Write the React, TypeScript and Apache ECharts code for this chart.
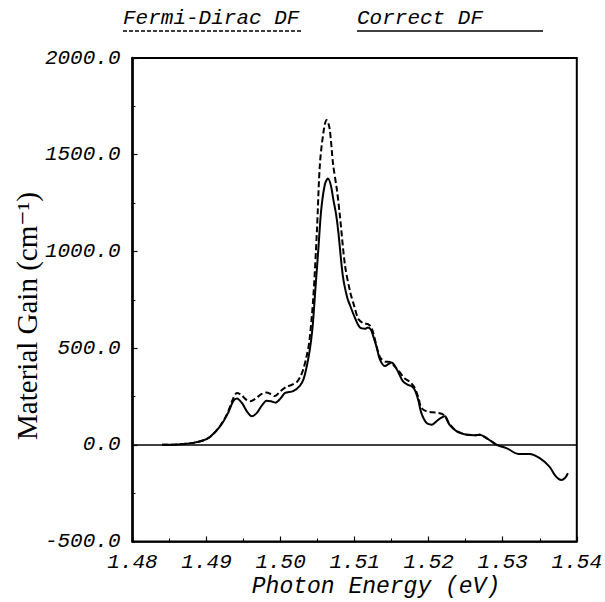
import React, { useEffect, useRef } from "react";
import * as echarts from "echarts";

// Photon energy (eV) and material gain (cm^-1) — "Correct DF" (solid)
const energyCorrect = [
  1.4840, 1.4860, 1.4882, 1.4895, 1.4905, 1.4918, 1.4928, 1.4936, 1.4941, 1.4948,
  1.4955, 1.4961, 1.4968, 1.4975, 1.4981, 1.4987, 1.4993, 1.5000, 1.5006, 1.5017,
  1.5026, 1.5031, 1.5035, 1.5039, 1.5043, 1.5047, 1.5051, 1.5055, 1.5060, 1.5064,
  1.5068, 1.5071, 1.5075, 1.5078, 1.5084, 1.5090, 1.5094, 1.5100, 1.5107, 1.5114,
  1.5118, 1.5122, 1.5125, 1.5130, 1.5134, 1.5141, 1.5146, 1.5150, 1.5154, 1.5159,
  1.5165, 1.5172, 1.5177, 1.5181, 1.5186, 1.5190, 1.5197, 1.5204, 1.5210, 1.5216,
  1.5222, 1.5228, 1.5238, 1.5251, 1.5262, 1.5269, 1.5278, 1.5292, 1.5305, 1.5321,
  1.5336, 1.5350, 1.5363, 1.5372, 1.5379, 1.5384, 1.5388,
];
const gainCorrect = [
  0, 2, 10, 22, 42, 94, 156, 225, 240, 215,
  170, 148, 165, 205, 228, 225, 218, 240, 268, 278,
  305, 340, 400, 480, 600, 806, 1013, 1221, 1350, 1377,
  1340, 1273, 1190, 1100, 875, 760, 719, 660, 607, 600,
  607, 595, 563, 500, 442, 407, 418, 425, 410, 375,
  329, 310, 303, 285, 230, 165, 113, 104, 120, 138,
  147, 104, 69, 52, 50, 52, 35, 0, -17, -47,
  -47, -69, -113, -165, -182, -172, -147,
];

// "Fermi-Dirac DF" (dashed)
const energyFermi = [
  1.4840, 1.4860, 1.4882, 1.4895, 1.4905, 1.4918, 1.4928, 1.4936, 1.4941, 1.4947,
  1.4953, 1.4959, 1.4966, 1.4974, 1.4981, 1.4987, 1.4992, 1.5000, 1.5008, 1.5015,
  1.5022, 1.5027, 1.5031, 1.5035, 1.5039, 1.5044, 1.5049, 1.5053, 1.5058, 1.5062,
  1.5066, 1.5071, 1.5076, 1.5080, 1.5087, 1.5094, 1.5100, 1.5105, 1.5112, 1.5118,
  1.5122, 1.5125, 1.5134, 1.5141, 1.5148, 1.5154, 1.5160, 1.5167, 1.5175, 1.5181,
  1.5186, 1.5190, 1.5197, 1.5205, 1.5213, 1.5218, 1.5222, 1.5228, 1.5238, 1.5251,
  1.5262, 1.5269, 1.5278, 1.5292,
];
const gainFermi = [
  0, 2, 10, 22, 42, 96, 162, 240, 268, 258,
  235, 225, 238, 262, 270, 262, 252, 278, 300, 310,
  325, 355, 395, 455, 540, 754, 1102, 1447, 1620, 1680,
  1640, 1447, 1320, 1187, 927, 790, 710, 650, 628, 624,
  610, 580, 455, 430, 428, 405, 380, 345, 324, 295,
  245, 191, 173, 168, 165, 160, 147, 108, 70, 53,
  50, 52, 35, 0,
];

const seriesNames = ["Fermi-Dirac DF", "Correct DF"];
const xTitle = "Photon Energy (eV)";
const yTitle = "Material Gain (cm\u207B\u00B9)";

const MONO = "'Liberation Mono', 'DejaVu Sans Mono', monospace";
const SERIF = "'Liberation Serif', 'DejaVu Serif', serif";

export default function App() {
  const ref = useRef<HTMLDivElement>(null);

  useEffect(() => {
    document.body.style.margin = "0";
    if (!ref.current) return;
    const chart = echarts.init(ref.current, null, { renderer: "svg" });
    const zip = (xs: number[], ys: number[]) => xs.map((x, i) => [x, ys[i]]);

    const labelStyle = {
      fontFamily: MONO,
      fontStyle: "italic" as const,
      fontSize: 21,
      color: "#000",
    };

    chart.setOption({
      animation: false,
      backgroundColor: "#fff",
      grid: {
        left: 132.5,
        right: 28,
        top: 58,
        bottom: 60.5,
        show: true,
        borderColor: "#000",
        borderWidth: 2,
        backgroundColor: "transparent",
      },
      xAxis: {
        type: "value",
        min: 1.48,
        max: 1.54,
        interval: 0.01,
        axisLine: { show: true, onZero: false, lineStyle: { color: "#000", width: 1.5 } },
        axisTick: { show: true, inside: true, length: 5, lineStyle: { color: "#000", width: 1.2 } },
        minorTick: { show: true, splitNumber: 2, length: 3, lineStyle: { color: "#000", width: 1 } },
        splitLine: { show: false },
        axisLabel: {
          ...labelStyle,
          margin: 10,
          formatter: (v: number) => v.toFixed(2),
        },
      },
      yAxis: {
        type: "value",
        min: -500,
        max: 2000,
        interval: 500,
        axisLine: { show: true, onZero: false, lineStyle: { color: "#000", width: 2.5 } },
        axisTick: { show: true, inside: true, length: 5, lineStyle: { color: "#000", width: 1.2 } },
        minorTick: { show: true, splitNumber: 2, length: 3, lineStyle: { color: "#000", width: 1 } },
        splitLine: { show: false },
        axisLabel: {
          ...labelStyle,
          margin: 12,
          formatter: (v: number) => v.toFixed(1),
        },
      },
      series: [
        {
          name: seriesNames[0],
          type: "line",
          data: zip(energyFermi, gainFermi),
          showSymbol: false,
          smooth: 0.3,
          lineStyle: { color: "#000", width: 2, type: [6, 3] },
          z: 2,
        },
        {
          name: seriesNames[1],
          type: "line",
          data: zip(energyCorrect, gainCorrect),
          showSymbol: false,
          smooth: 0.3,
          lineStyle: { color: "#000", width: 2, type: "solid" },
          z: 3,
          markLine: {
            silent: true,
            symbol: ["none", "none"],
            label: { show: false },
            lineStyle: { color: "#000", width: 1.5, type: "solid" },
            data: [{ yAxis: 0 }],
          },
        },
      ],
      graphic: [
        {
          type: "text",
          x: 123,
          y: 18,
          style: {
            text: seriesNames[0],
            font: `italic 21px ${MONO}`,
            fill: "#000",
            textAlign: "left",
            textVerticalAlign: "middle",
          },
        },
        {
          type: "line",
          shape: { x1: 123, y1: 31, x2: 303, y2: 31 },
          style: { stroke: "#000", lineWidth: 1.5, lineDash: [4, 2] },
        },
        {
          type: "text",
          x: 357,
          y: 18,
          style: {
            text: seriesNames[1],
            font: `italic 21px ${MONO}`,
            fill: "#000",
            textAlign: "left",
            textVerticalAlign: "middle",
          },
        },
        {
          type: "line",
          shape: { x1: 357, y1: 31, x2: 543, y2: 31 },
          style: { stroke: "#000", lineWidth: 1.5 },
        },
        {
          type: "text",
          x: 376,
          y: 587,
          style: {
            text: xTitle,
            font: `italic 23px ${MONO}`,
            fill: "#000",
            textAlign: "center",
            textVerticalAlign: "middle",
          },
        },
        {
          type: "text",
          x: 27,
          y: 316,
          rotation: Math.PI / 2,
          style: {
            text: yTitle,
            font: `29px ${SERIF}`,
            fill: "#000",
            textAlign: "center",
            textVerticalAlign: "middle",
          },
        },
      ],
    });

    return () => chart.dispose();
  }, []);

  return <div ref={ref} style={{ width: 605, height: 602 }} />;
}
